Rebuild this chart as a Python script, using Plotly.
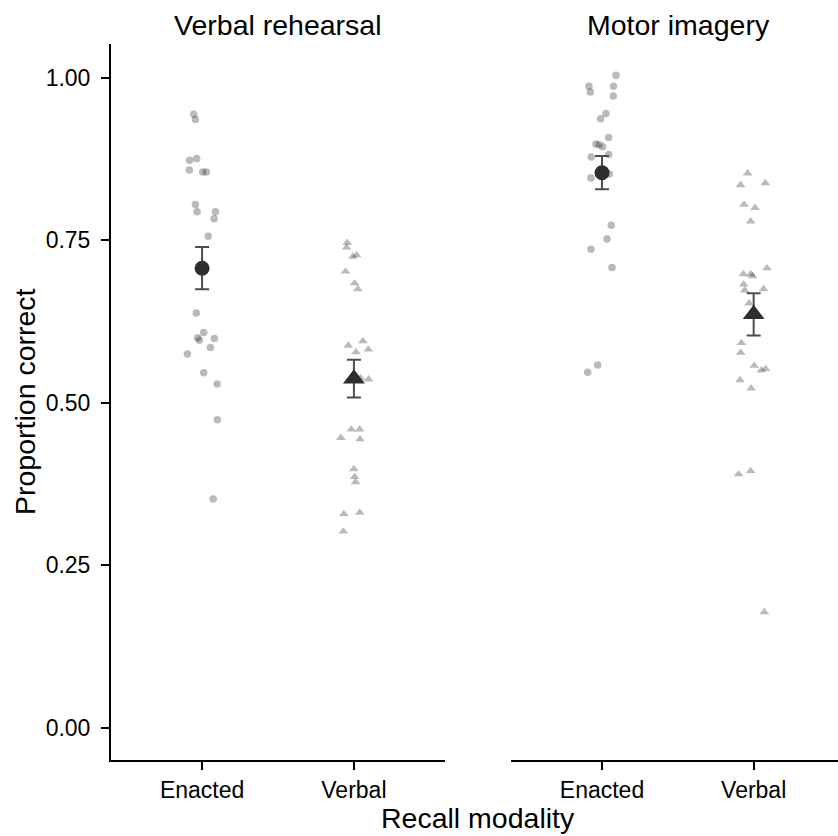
import plotly.graph_objects as go

# ---------------- data ----------------
conditions = ["Verbal rehearsal", "Motor imagery"]
modalities = ["Enacted", "Verbal"]
y_tick_vals = [0.0, 0.25, 0.5, 0.75, 1.0]
y_tick_text = ["0.00", "0.25", "0.50", "0.75", "1.00"]

# Verbal rehearsal / Enacted (individual participants)
vr_enacted = [0.944, 0.936, 0.873, 0.876, 0.858, 0.855, 0.855, 0.805, 0.794, 0.794,
              0.783, 0.756, 0.638, 0.608, 0.600, 0.596, 0.599, 0.585, 0.575, 0.546,
              0.529, 0.474, 0.352]
vr_enacted_jitter = [-0.055, -0.044, -0.082, -0.036, -0.084, 0.004, 0.028, -0.044, -0.033, 0.088,
                     0.079, 0.040, -0.038, 0.011, -0.029, -0.018, 0.081, 0.055, -0.097, 0.011,
                     0.099, 0.101, 0.073]

# Verbal rehearsal / Verbal
vr_verbal = [0.746, 0.739, 0.725, 0.727, 0.702, 0.684, 0.675, 0.588, 0.595, 0.582,
             0.578, 0.536, 0.538, 0.459, 0.459, 0.446, 0.444, 0.398, 0.386, 0.378,
             0.329, 0.331, 0.302]
vr_verbal_jitter = [-0.044, -0.048, -0.007, 0.018, -0.055, 0.005, 0.026, -0.037, 0.059, 0.095,
                    0.013, 0.097, 0.044, -0.017, 0.038, -0.086, 0.040, 0.000, 0.005, 0.011,
                    -0.066, 0.038, -0.070]

# Motor imagery / Enacted
mi_enacted = [1.004, 0.987, 0.987, 0.978, 0.972, 0.945, 0.937, 0.908, 0.898, 0.897,
              0.894, 0.882, 0.878, 0.852, 0.846, 0.855, 0.773, 0.752, 0.736, 0.708,
              0.558, 0.547]
mi_enacted_jitter = [0.092, -0.086, 0.076, -0.077, 0.074, 0.026, -0.009, 0.044, -0.040, -0.018,
                     0.004, 0.044, -0.071, 0.048, -0.073, 0.022, 0.061, 0.033, -0.073, 0.066,
                     -0.029, -0.095]

# Motor imagery / Verbal
mi_verbal = [0.853, 0.835, 0.838, 0.805, 0.800, 0.779, 0.707, 0.698, 0.698, 0.695,
             0.682, 0.673, 0.675, 0.653, 0.592, 0.577, 0.557, 0.550, 0.552, 0.535,
             0.522, 0.390, 0.395, 0.178]
mi_verbal_jitter = [-0.040, -0.086, 0.077, -0.063, 0.009, -0.020, 0.088, -0.068, -0.020, -0.007,
                    -0.066, -0.059, 0.066, -0.030, -0.081, -0.086, 0.003, 0.051, 0.079, -0.090,
                    -0.017, -0.099, -0.020, 0.071]

# group means and standard errors [Enacted, Verbal]
vr_mean = [0.707, 0.537]
vr_se = [0.0325, 0.029]
mi_mean = [0.854, 0.636]
mi_se = [0.0255, 0.0325]

# ---------------- figure ----------------
FONT = "Liberation Sans, Arial, Helvetica, sans-serif"
PT_COLOR = "rgba(0,0,0,0.27)"
MEAN_COLOR = "#2e2e2e"
ERR_COLOR = "#4d4d4d"
symbols = ["circle", "triangle-up"]
small_sizes = [7.5, 8.5]
big_sizes = [15, 19]

fig = go.Figure()

panels = [
    ("x", "y", [(vr_enacted, vr_enacted_jitter), (vr_verbal, vr_verbal_jitter)], vr_mean, vr_se),
    ("x2", "y2", [(mi_enacted, mi_enacted_jitter), (mi_verbal, mi_verbal_jitter)], mi_mean, mi_se),
]

for xa, ya, groups, means, ses in panels:
    for i, (vals, jit) in enumerate(groups):
        fig.add_trace(go.Scatter(
            x=[i + j for j in jit], y=vals, xaxis=xa, yaxis=ya,
            mode="markers",
            marker=dict(symbol=symbols[i], size=small_sizes[i], color=PT_COLOR,
                        line=dict(width=0)),
            showlegend=False, hoverinfo="skip"))
    for i in range(2):
        fig.add_trace(go.Scatter(
            x=[i], y=[means[i]], xaxis=xa, yaxis=ya,
            mode="markers",
            marker=dict(symbol=symbols[i], size=big_sizes[i], color=MEAN_COLOR,
                        line=dict(width=0)),
            error_y=dict(type="data", array=[ses[i]], visible=True,
                         color=ERR_COLOR, thickness=2, width=7),
            showlegend=False, hoverinfo="skip"))

L, R, T, B = 111, 0, 44, 76
W, H = 838, 836
pw = W - L - R

axis_common = dict(
    showgrid=False, zeroline=False, showline=True, linecolor="black", linewidth=2,
    ticks="outside", ticklen=8, tickwidth=2, tickcolor="black",
    tickfont=dict(family=FONT, size=23, color="black"), fixedrange=True,
)

yr = [-0.0497, 1.052]

fig.update_layout(
    width=W, height=H,
    margin=dict(l=L, r=R, t=T, b=B),
    paper_bgcolor="white", plot_bgcolor="white",
    font=dict(family=FONT, color="black"),
    xaxis=dict(domain=[0, 334 / pw], range=[-0.6, 1.6], tickvals=[0, 1],
               ticktext=modalities, anchor="y", **axis_common),
    xaxis2=dict(domain=[400 / pw, 1], range=[-0.6, 1.556], tickvals=[0, 1],
                ticktext=modalities, anchor="y2", **axis_common),
    yaxis=dict(domain=[0, 1], range=yr, tickvals=y_tick_vals, ticktext=y_tick_text,
               anchor="x", ticklabelstandoff=6, **axis_common),
    yaxis2=dict(domain=[0, 1], range=yr, anchor="x2", showgrid=False, zeroline=False,
                showline=False, showticklabels=False, ticks="", fixedrange=True),
)

ph = H - T - B
annots = [
    dict(text=conditions[0], x=(278 - L) / pw, y=(H - B - 25) / ph, size=28.5, angle=0),
    dict(text=conditions[1], x=(678 - L) / pw, y=(H - B - 25) / ph, size=28.5, angle=0),
    dict(text="Recall modality", x=(478 - L) / pw, y=(H - B - 818) / ph, size=28.5, angle=0),
    dict(text="Proportion correct", x=(25 - L) / pw, y=0.5, size=28.5, angle=-90),
]
for a in annots:
    fig.add_annotation(text=a["text"], xref="paper", yref="paper", x=a["x"], y=a["y"],
                       xanchor="center", yanchor="middle", showarrow=False,
                       textangle=a["angle"], font=dict(family=FONT, size=a["size"], color="black"))

fig.write_html("out.html")
